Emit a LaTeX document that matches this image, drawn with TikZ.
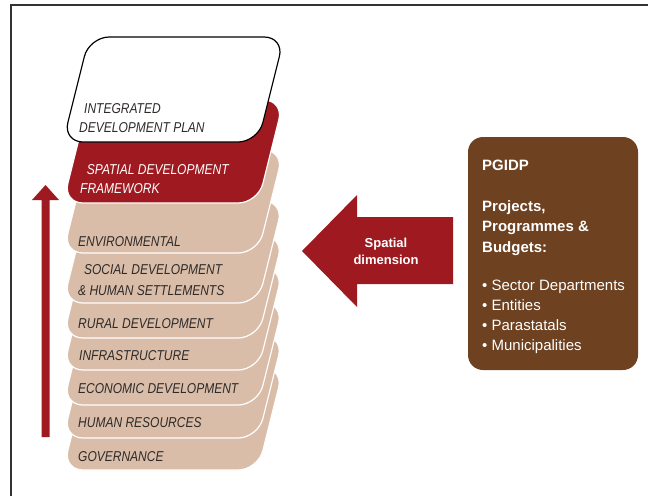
\documentclass[tikz,border=0pt]{standalone}
\usepackage{fontspec}
\setmainfont{Liberation Sans}
\definecolor{tanc}{HTML}{D9BDA9}
\definecolor{dred}{HTML}{9E1A20}
\definecolor{brn}{HTML}{6E4120}
\definecolor{ltxt}{HTML}{2E2A28}
\tikzset{
  layer/.style={rounded corners=20pt, line width=1.2pt},
  laytext/.style={anchor=base west, font=\fontsize{14.3}{19}\selectfont\itshape, text=ltxt, xscale=0.84, inner sep=0pt, align=left},
  boxtext/.style={anchor=base west, font=\fontsize{15}{20}\selectfont, text=white, inner sep=0pt, align=left},
  pgbox/.style={fill=brn, rounded corners=15pt, minimum width=170pt, minimum height=233pt, inner sep=0pt},
}
\newcommand\lay[4]{%
  \draw[layer, fill=#2, draw=#3] (160,#1) -- (258,#1) -- ({258+0.25*#4},#1-#4) -- ({63+0.25*#4},#1-#4) -- (63,#1) -- cycle;}
\begin{document}
\begin{tikzpicture}[x=1pt,y=-1pt]
\useasboundingbox (0,0) rectangle (648,496);
% frame
\draw[line width=1.5pt, black!80] (11,496) -- (11,5) -- (648,5);
% layers bottom to top
\lay{470}{tanc}{white}{102}
\lay{438}{tanc}{white}{102}
\lay{405}{tanc}{white}{102}
\lay{370}{tanc}{white}{102}
\lay{338}{tanc}{white}{102}
\lay{303}{tanc}{white}{102}
\lay{253}{tanc}{white}{103}
\lay{203}{dred}{white}{103}
\lay{142}{white}{black}{105}
% layer texts (base = last line)
\node[laytext] (idp) at (79,132) {\hspace*{6pt}INTEGRATED\\DEVELOPMENT PLAN};
\node[laytext, text=white] (sdf) at (80,193) {\hspace*{8pt}SPATIAL DEVELOPMENT\\FRAMEWORK};
\node[laytext] (env) at (78,246) {ENVIRONMENTAL};
\node[laytext] (soc) at (78,295) {\hspace*{7pt}SOCIAL DEVELOPMENT\\[2pt]\& HUMAN SETTLEMENTS};
\node[laytext] (rur) at (78,328) {RURAL DEVELOPMENT};
\node[laytext] (inf) at (79,360) {INFRASTRUCTURE};
\node[laytext] (eco) at (78,393) {ECONOMIC DEVELOPMENT};
\node[laytext] (hum) at (78,427) {HUMAN RESOURCES};
\node[laytext] (gov) at (78,461) {GOVERNANCE};
% vertical arrow
\fill[dred] (41.5,437) -- (41.5,200) -- (32,200) -- (45.5,185) -- (59,200) -- (49.5,200) -- (49.5,437) -- cycle;
% big left arrow
\fill[dred] (302,251) -- (357,195) -- (357,217) -- (453,217) -- (453,284) -- (357,284) -- (357,307) -- cycle;
\node[font=\fontsize{13}{17}\selectfont\bfseries, text=white, align=center, inner sep=0pt] (sp) at (386,251) {Spatial\\dimension};
% PGIDP box
\node[pgbox] (pg) at (553,253.5) {};
\node[boxtext, font=\fontsize{15}{20}\selectfont\bfseries] (pgt) at (482,170) {PGIDP};
\node[boxtext, font=\fontsize{15}{20.5}\selectfont\bfseries] (ppb) at (482,252) {Projects,\\Programmes \&\\Budgets:};
\node[boxtext] (b1) at (482,290) {\textbullet\ Sector Departments};
\node[boxtext] (b2) at (482,310) {\textbullet\ Entities};
\node[boxtext] (b3) at (482,330) {\textbullet\ Parastatals};
\node[boxtext] (b4) at (482,350) {\textbullet\ Municipalities};
\end{tikzpicture}
\end{document}
